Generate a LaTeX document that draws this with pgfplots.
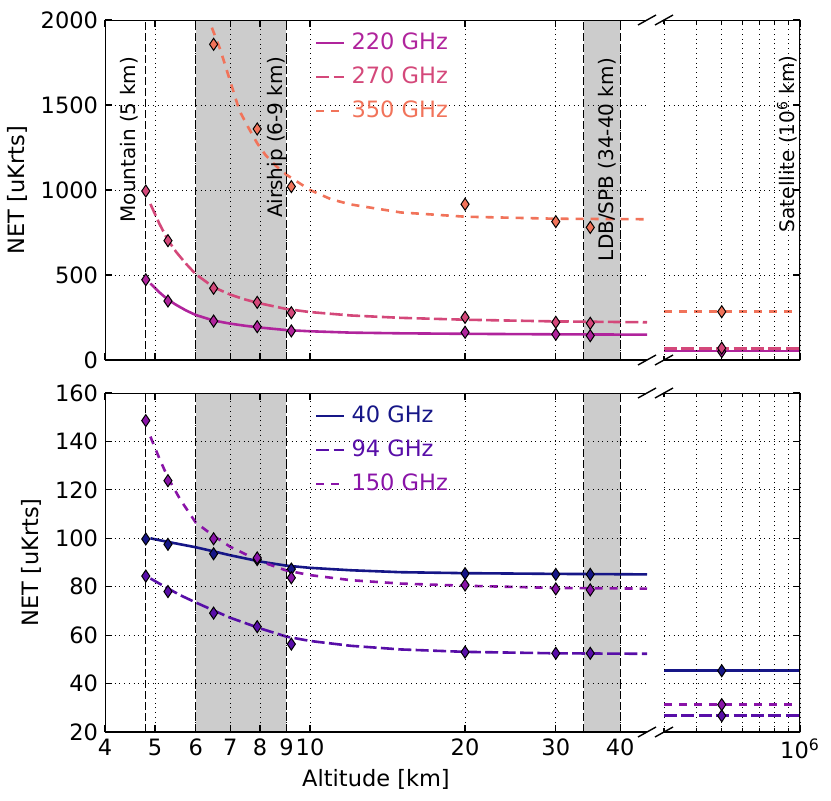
\documentclass[border=0pt]{standalone}
\usepackage{fontspec}
\setmainfont{DejaVu Sans}
\usepackage{pgfplots}
\pgfplotsset{compat=1.18}

\definecolor{c220}{RGB}{176,36,156}
\definecolor{c270}{RGB}{212,72,122}
\definecolor{c350}{RGB}{241,115,90}
\definecolor{c40}{RGB}{22,22,135}
\definecolor{c94}{RGB}{88,14,168}
\definecolor{c150}{RGB}{138,20,168}

\newcommand\bigf{\fontsize{11.25bp}{13bp}\selectfont}
\newcommand\smf{\fontsize{10bp}{12bp}\selectfont}

\pgfplotsset{
  scale only axis, axis on top,
  axis line style={draw=none},
  tick align=inside, major tick length=3.5bp, minor tick length=2bp,
  tick style={black, line width=0.6bp},
  grid style={black, dotted, line width=0.4bp},
  minor grid style={black, dotted, line width=0.4bp},
  tick label style={font=\bigf}, label style={font=\bigf},
  /pgf/number format/assume math mode=true,
  /pgf/number format/1000 sep={},
  legend style={draw=none, fill=none, font=\bigf, anchor=north west,
    inner sep=0pt, outer sep=0pt, row sep=6bp, column sep=3bp,
    nodes={inner sep=0pt, text height=8.5bp, text depth=2.5bp}},
  legend cell align=left,
  legend image code/.code={\draw[#1] (0bp,0bp) -- (14bp,0bp);},
}
\tikzset{
  fitsolid/.style={line width=1.3bp},
  fitlong/.style={line width=1.3bp, dash pattern=on 6.5bp off 2.2bp},
  fitshort/.style={line width=1.3bp, dash pattern=on 4bp off 3.5bp},
  vdash/.style={black, line width=0.6bp, dash pattern=on 4bp off 1.5bp},
}

\begin{document}
\begin{tikzpicture}

% ---------- top, main range ----------
\begin{axis}[anchor=south west, xmode=log, width=271bp, xmin=4, xmax=45.1,
  xtick={4,5,6,7,8,9,10,20,30,40}, minor xtick={}, grid=major, ytick pos=left,
  at={(52.5bp,-180bp)}, height=170bp,
  ymin=0, ymax=2000, ytick={0,500,1000,1500,2000},
  xticklabels={}, ylabel={NET [uKrts]},
  legend style={at={(axis description cs:0.3875,0.9647)}}]
\addplot[fill=black!20, draw=none, forget plot] coordinates {(6,0)(9,0)(9,2000)(6,2000)} -- cycle;
\addplot[fill=black!20, draw=none, forget plot] coordinates {(34,0)(40,0)(40,2000)(34,2000)} -- cycle;
\addplot[vdash, forget plot] coordinates {(4.8,0)(4.8,2000)};
\addplot[vdash, forget plot] coordinates {(6,0)(6,2000)};
\addplot[vdash, forget plot] coordinates {(9,0)(9,2000)};
\addplot[vdash, forget plot] coordinates {(34,0)(34,2000)};
\addplot[vdash, forget plot] coordinates {(40,0)(40,2000)};

\addplot[fitsolid, c220] coordinates {
  (4.9,450)(5.1,398)(5.3,355)(5.5,324)(5.75,291)(6,265)(6.5,232)(7,214)
  (7.5,201)(8,191)(9,176)(10,169)(12,161)(15,157)(20,154)(30,151)(45.1,149)};
\addlegendentry{\textcolor{c220}{220 GHz}}
\addplot[fitlong, c270] coordinates {
  (4.9,918)(5.1,802)(5.3,705)(5.5,635)(5.75,565)(6,505)(6.5,428)(7,385)
  (7.5,355)(8,333)(9,300)(10,282)(12,262)(15,248)(20,237)(30,227)(45.1,222)};
\addlegendentry{\textcolor{c270}{270 GHz}}
\addplot[fitshort, c350] coordinates {
  (6.45,1955)(6.7,1824)(7,1640)(7.3,1465)(7.6,1365)(7.9,1275)(8.2,1205)
  (8.6,1140)(9,1090)(10,1000)(11,945)(12,915)(13,898)(15,868)(20,843)
  (30,831)(45.1,828)};
\addlegendentry{\textcolor{c350}{350 GHz}}

\addplot[only marks, mark=diamond*, mark size=3bp, forget plot,
  mark options={xscale=0.9, fill=c220, draw=black, line width=0.5bp}] coordinates {
  (4.8,472)(5.3,347)(6.5,229)(7.9,196)(9.2,171)(20,163)(30,151)(35,143)};
\addplot[only marks, mark=diamond*, mark size=3bp, forget plot,
  mark options={xscale=0.9, fill=c270, draw=black, line width=0.5bp}] coordinates {
  (4.8,994)(5.3,702)(6.5,422)(7.9,339)(9.2,278)(20,251)(30,222)(35,216)};
\addplot[only marks, mark=diamond*, mark size=3bp, forget plot,
  mark options={xscale=0.9, fill=c350, draw=black, line width=0.5bp}] coordinates {
  (6.5,1857)(7.9,1359)(9.2,1020)(20,916)(30,814)(35,780)};

\node[rotate=90, anchor=south east, inner sep=0pt, font=\smf]
  at (axis cs:4.64,1784) {Mountain (5 km)};
\node[rotate=90, anchor=south east, inner sep=0pt, font=\smf]
  at (axis cs:9.02,1784) {Airship (6-9 km)};
\node[rotate=90, anchor=south east, inner sep=0pt, font=\smf]
  at (axis cs:39.4,1778) {LDB/SPB (34-40 km)};
\draw[black, line width=0.8bp] (rel axis cs:1,0) -- (rel axis cs:0,0)
  -- (rel axis cs:0,1) -- (rel axis cs:1,1);
\end{axis}

% ---------- top, satellite ----------
\begin{axis}[anchor=south west, xmode=log, width=68bp,
  xmin=300000, xmax=1000000, xtick={1000000},
  minor xtick={300000,400000,500000,600000,700000,800000,900000},
  grid=both, ytick pos=right, yticklabels={},
  at={(332bp,-180bp)}, height=170bp,
  ymin=0, ymax=2000, ytick={0,500,1000,1500,2000}, xticklabels={}]
\addplot[fitsolid, c220] coordinates {(300000,52)(1000000,52)};
\addplot[fitlong, c270] coordinates {(300000,68)(1000000,68)};
\addplot[fitshort, c350] coordinates {(300000,284)(1000000,284)};
\addplot[only marks, mark=diamond*, mark size=3bp,
  mark options={xscale=0.9, fill=c220, draw=black, line width=0.5bp}] coordinates {(500000,49)};
\addplot[only marks, mark=diamond*, mark size=3bp,
  mark options={xscale=0.9, fill=c270, draw=black, line width=0.5bp}] coordinates {(500000,70)};
\addplot[only marks, mark=diamond*, mark size=3bp,
  mark options={xscale=0.9, fill=c350, draw=black, line width=0.5bp}] coordinates {(500000,284)};
\node[rotate=90, anchor=south east, inner sep=0pt, font=\smf]
  at (axis cs:980000,1794) {Satellite (10\textsuperscript{6} km)};
\draw[black, line width=0.8bp] (rel axis cs:0,0) -- (rel axis cs:1,0)
  -- (rel axis cs:1,1) -- (rel axis cs:0,1);
\end{axis}

% ---------- bottom, main range ----------
\begin{axis}[anchor=south west, xmode=log, width=271bp, xmin=4, xmax=45.1,
  xtick={4,5,6,7,8,9,10,20,30,40}, minor xtick={}, grid=major, ytick pos=left,
  at={(52.5bp,-366bp)}, height=169.5bp,
  ymin=20, ymax=160, ytick={20,40,60,80,100,120,140,160},
  xticklabels={4,5,6,7,8,9,10,20,30,40},
  xlabel={Altitude [km]}, ylabel={NET [uKrts]},
  legend style={at={(axis description cs:0.3875,0.9646)}}]
\addplot[fill=black!20, draw=none, forget plot] coordinates {(6,20)(9,20)(9,160)(6,160)} -- cycle;
\addplot[fill=black!20, draw=none, forget plot] coordinates {(34,20)(40,20)(40,160)(34,160)} -- cycle;
\addplot[vdash, forget plot] coordinates {(4.8,20)(4.8,160)};
\addplot[vdash, forget plot] coordinates {(6,20)(6,160)};
\addplot[vdash, forget plot] coordinates {(9,20)(9,160)};
\addplot[vdash, forget plot] coordinates {(34,20)(34,160)};
\addplot[vdash, forget plot] coordinates {(40,20)(40,160)};

\addplot[fitsolid, c40] coordinates {
  (4.9,100)(5.3,98.5)(6,96.3)(6.5,94.6)(7,93)(8,90.4)(9,88.7)(10,87.8)
  (12,86.8)(15,86)(20,85.6)(30,85.3)(45.1,85.1)};
\addlegendentry{\textcolor{c40}{40 GHz}}
\addplot[fitlong, c94] coordinates {
  (4.9,83.4)(5.3,79.3)(5.6,76.5)(6,73.5)(6.5,70.2)(7,67.2)(8,62.8)(9,59.4)
  (10,57.6)(12,55.6)(15,54.1)(20,53.1)(30,52.5)(45.1,52.3)};
\addlegendentry{\textcolor{c94}{94 GHz}}
\addplot[fitshort, c150] coordinates {
  (4.9,142)(5.1,133)(5.3,125)(5.6,116)(6,106.5)(6.5,101)(7,96.5)(8,90.5)
  (9,86.7)(10,84.8)(12,82.7)(15,81.3)(20,80.4)(30,79.5)(45.1,79.2)};
\addlegendentry{\textcolor{c150}{150 GHz}}

\addplot[only marks, mark=diamond*, mark size=3bp, forget plot,
  mark options={xscale=0.9, fill=c40, draw=black, line width=0.5bp}] coordinates {
  (4.8,99.7)(5.3,97.5)(6.5,93.6)(7.9,91.2)(9.2,87.3)(20,85.4)(30,85.1)(35,85.1)};
\addplot[only marks, mark=diamond*, mark size=3bp, forget plot,
  mark options={xscale=0.9, fill=c94, draw=black, line width=0.5bp}] coordinates {
  (4.8,84.4)(5.3,78)(6.5,69.1)(7.9,63.5)(9.2,56.3)(20,53.0)(30,52.5)(35,52.5)};
\addplot[only marks, mark=diamond*, mark size=3bp, forget plot,
  mark options={xscale=0.9, fill=c150, draw=black, line width=0.5bp}] coordinates {
  (4.8,148.6)(5.3,123.8)(6.5,99.8)(7.9,91.9)(9.2,83.7)(20,80.7)(30,79.1)(35,78.7)};
\draw[black, line width=0.8bp] (rel axis cs:1,0) -- (rel axis cs:0,0)
  -- (rel axis cs:0,1) -- (rel axis cs:1,1);
\end{axis}

% ---------- bottom, satellite ----------
\begin{axis}[anchor=south west, xmode=log, width=68bp,
  xmin=300000, xmax=1000000, xtick={1000000},
  minor xtick={300000,400000,500000,600000,700000,800000,900000},
  grid=both, ytick pos=right, yticklabels={},
  at={(332bp,-366bp)}, height=169.5bp,
  ymin=20, ymax=160, ytick={20,40,60,80,100,120,140,160},
  xticklabels={10\textsuperscript{6}}]
\addplot[fitsolid, c40] coordinates {(300000,45.3)(1000000,45.3)};
\addplot[fitlong, c94] coordinates {(300000,26.7)(1000000,26.7)};
\addplot[fitshort, c150] coordinates {(300000,31.3)(1000000,31.3)};
\addplot[only marks, mark=diamond*, mark size=3bp,
  mark options={xscale=0.9, fill=c40, draw=black, line width=0.5bp}] coordinates {(500000,45.3)};
\addplot[only marks, mark=diamond*, mark size=3bp,
  mark options={xscale=0.9, fill=c94, draw=black, line width=0.5bp}] coordinates {(500000,26.7)};
\addplot[only marks, mark=diamond*, mark size=3bp,
  mark options={xscale=0.9, fill=c150, draw=black, line width=0.5bp}] coordinates {(500000,31.3)};
\draw[black, line width=0.8bp] (rel axis cs:0,0) -- (rel axis cs:1,0)
  -- (rel axis cs:1,1) -- (rel axis cs:0,1);
\end{axis}

% broken-axis marks
\foreach \yy in {-10,-180,-196.5,-366} {
  \draw[black, line width=0.7bp] (319bp,\yy bp-2.5bp) -- (328bp,\yy bp+2.5bp);
  \draw[black, line width=0.7bp] (327.5bp,\yy bp-2.5bp) -- (336.5bp,\yy bp+2.5bp);
}

\pgfresetboundingbox
\path (0,0) rectangle (415.5bp,-400.5bp);
\end{tikzpicture}
\end{document}
